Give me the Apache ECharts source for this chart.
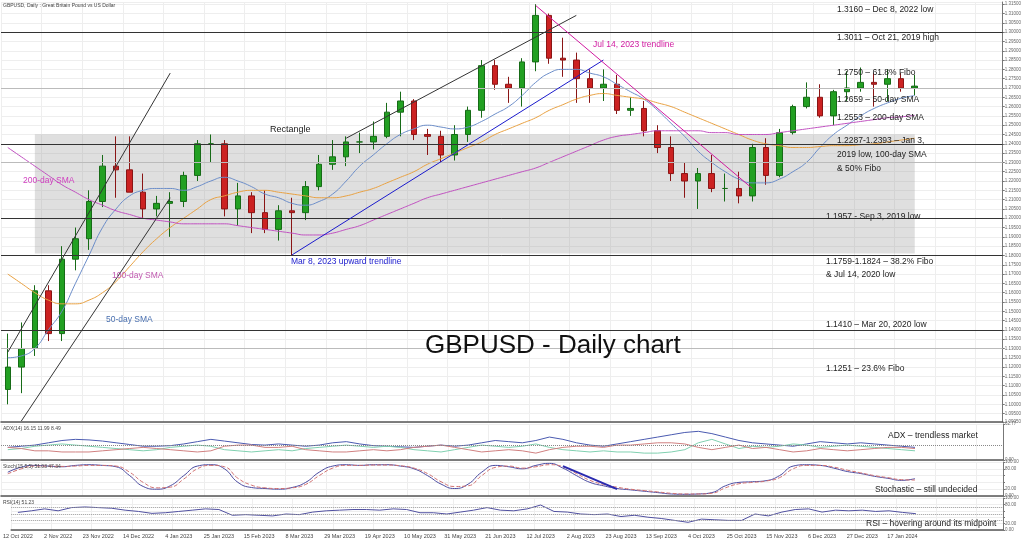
<!DOCTYPE html>
<html><head><meta charset="utf-8">
<script src="https://cdn.jsdelivr.net/npm/echarts@6/dist/echarts.min.js"></script>
<style>html,body{margin:0;padding:0;background:#fff}#c{width:1024px;height:541px}</style>
</head><body><div id="c"></div>
<script>
// weekly candles, week starting 10 Oct 2022
const opens  = [1.1080,1.1200,1.1300,1.1610,1.1380,1.1780,1.1890,1.2090,1.2280,1.2260,1.2140,1.2050,1.2080,1.2090,1.2230,1.2400,1.2400,1.2050,1.2120,1.2030,1.1940,1.2040,1.2030,1.2170,1.2290,1.2330,1.2410,1.2410,1.2440,1.2570,1.2630,1.2450,1.2440,1.2340,1.2450,1.2580,1.2820,1.2720,1.2700,1.2840,1.3090,1.2860,1.2850,1.2750,1.2700,1.2720,1.2580,1.2590,1.2470,1.2380,1.2240,1.2200,1.2240,1.2160,1.2160,1.2120,1.2380,1.2230,1.2460,1.2600,1.2650,1.2550,1.2680,1.2700,1.2730,1.2720,1.2750,1.2700];
const closes = [1.1200,1.1300,1.1610,1.1380,1.1780,1.1890,1.2090,1.2280,1.2260,1.2140,1.2050,1.2080,1.2090,1.2230,1.2400,1.2400,1.2050,1.2120,1.2030,1.1940,1.2040,1.2030,1.2170,1.2290,1.2330,1.2410,1.2410,1.2440,1.2570,1.2630,1.2450,1.2440,1.2340,1.2450,1.2580,1.2820,1.2720,1.2700,1.2840,1.3090,1.2860,1.2850,1.2750,1.2700,1.2720,1.2580,1.2590,1.2470,1.2380,1.2240,1.2200,1.2240,1.2160,1.2160,1.2120,1.2380,1.2230,1.2460,1.2600,1.2650,1.2550,1.2680,1.2700,1.2730,1.2720,1.2750,1.2700,1.2710];
const highs  = [1.1380,1.1440,1.1640,1.1640,1.1850,1.1950,1.2150,1.2340,1.2440,1.2440,1.2240,1.2120,1.2140,1.2250,1.2420,1.2450,1.2420,1.2190,1.2140,1.2150,1.2070,1.2110,1.2200,1.2340,1.2420,1.2440,1.2460,1.2520,1.2620,1.2680,1.2640,1.2480,1.2470,1.2500,1.2600,1.2850,1.2850,1.2760,1.2860,1.3150,1.3100,1.2970,1.2890,1.2800,1.2800,1.2770,1.2650,1.2630,1.2500,1.2440,1.2300,1.2270,1.2340,1.2240,1.2250,1.2400,1.2430,1.2480,1.2610,1.2730,1.2720,1.2690,1.2790,1.2810,1.2780,1.2800,1.2780,1.2770];
const lows   = [1.1000,1.1060,1.1260,1.1340,1.1340,1.1720,1.1830,1.2060,1.2110,1.2140,1.2000,1.2010,1.1900,1.2060,1.2200,1.2300,1.2010,1.1960,1.1920,1.1920,1.1880,1.1800,1.1990,1.2150,1.2260,1.2280,1.2350,1.2370,1.2430,1.2440,1.2420,1.2340,1.2300,1.2310,1.2410,1.2540,1.2690,1.2620,1.2600,1.2790,1.2830,1.2760,1.2620,1.2620,1.2630,1.2560,1.2550,1.2440,1.2350,1.2200,1.2110,1.2050,1.2140,1.2090,1.2080,1.2090,1.2180,1.2220,1.2450,1.2590,1.2540,1.2500,1.2630,1.2680,1.2600,1.2630,1.2680,1.2660];
const sma50  = [1.1250,1.1260,1.1300,1.1400,1.1500,1.1650,1.1800,1.1950,1.2050,1.2120,1.2150,1.2160,1.2160,1.2150,1.2170,1.2200,1.2220,1.2200,1.2170,1.2130,1.2110,1.2080,1.2070,1.2090,1.2130,1.2200,1.2280,1.2340,1.2400,1.2450,1.2480,1.2500,1.2490,1.2480,1.2490,1.2520,1.2560,1.2600,1.2660,1.2730,1.2780,1.2800,1.2800,1.2780,1.2760,1.2720,1.2680,1.2640,1.2580,1.2510,1.2440,1.2360,1.2300,1.2250,1.2210,1.2190,1.2190,1.2210,1.2250,1.2300,1.2380,1.2450,1.2500,1.2550,1.2590,1.2620,1.2645,1.2659];
const sma100 = [1.1700,1.1650,1.1600,1.1560,1.1540,1.1540,1.1560,1.1600,1.1660,1.1740,1.1820,1.1890,1.1950,1.2000,1.2050,1.2100,1.2120,1.2140,1.2150,1.2150,1.2140,1.2130,1.2120,1.2110,1.2110,1.2120,1.2140,1.2160,1.2190,1.2220,1.2250,1.2290,1.2320,1.2350,1.2380,1.2410,1.2450,1.2480,1.2510,1.2540,1.2580,1.2610,1.2640,1.2660,1.2670,1.2660,1.2650,1.2640,1.2620,1.2600,1.2570,1.2540,1.2510,1.2480,1.2450,1.2420,1.2400,1.2390,1.2380,1.2380,1.2385,1.2390,1.2390,1.2395,1.2400,1.2410,1.2420,1.2430];
const sma200 = [1.2380,1.2330,1.2280,1.2230,1.2180,1.2140,1.2100,1.2070,1.2040,1.2020,1.2000,1.1990,1.1980,1.1970,1.1970,1.1970,1.1970,1.1960,1.1950,1.1940,1.1930,1.1920,1.1910,1.1910,1.1920,1.1940,1.1960,1.1990,1.2020,1.2050,1.2080,1.2110,1.2130,1.2150,1.2170,1.2190,1.2210,1.2230,1.2250,1.2270,1.2300,1.2330,1.2360,1.2390,1.2420,1.2440,1.2450,1.2460,1.2470,1.2470,1.2470,1.2470,1.2460,1.2460,1.2450,1.2450,1.2450,1.2460,1.2470,1.2480,1.2490,1.2500,1.2510,1.2520,1.2530,1.2540,1.2545,1.2553];
const adx   = [22,24,26,30,34,36,35,33,30,27,24,24,25,28,32,36,33,30,27,26,28,26,24,26,30,32,28,25,24,23,22,24,26,24,26,30,34,32,30,34,40,36,30,26,24,28,32,36,40,44,48,50,46,40,34,30,28,26,24,28,32,30,28,30,28,26,24,22];
const diPlus= [18,20,24,26,28,26,24,22,20,18,16,18,22,24,26,24,18,16,14,16,18,16,20,22,24,26,24,22,24,22,18,16,14,18,22,26,24,22,24,28,22,18,16,14,16,14,14,12,12,14,18,30,36,28,20,24,22,24,28,26,22,24,26,24,22,20,18,16];
const diMinus=[22,20,16,16,14,14,14,16,18,20,22,20,18,16,14,16,24,26,26,22,22,24,18,16,14,14,16,18,16,18,22,24,26,22,18,14,16,18,16,12,18,22,24,24,22,26,26,28,30,30,28,22,18,22,26,20,22,18,14,16,20,18,16,18,20,22,22,20];
const stochK= [70,85,90,88,86,90,92,90,86,60,28,20,30,60,88,92,80,40,25,22,20,25,40,70,88,92,90,92,92,88,80,60,35,22,35,70,90,86,80,90,96,82,60,40,30,22,18,14,10,6,5,6,10,30,40,42,45,60,88,92,90,82,72,66,58,52,46,51];
const stochD= [65,80,88,88,87,88,90,90,88,70,40,24,26,50,80,90,86,52,32,24,22,24,34,60,82,90,90,91,91,89,82,66,42,28,30,60,84,88,82,86,92,86,66,46,34,26,20,16,12,8,6,6,8,24,36,40,44,54,80,90,90,85,76,68,60,54,48,47];
const rsi   = [55,60,66,60,70,72,70,68,62,58,52,54,58,62,66,64,46,48,46,44,50,48,56,60,62,64,64,62,66,64,54,54,50,56,62,70,62,60,66,78,58,56,50,48,50,42,46,40,36,30,24,34,32,30,30,50,44,56,64,66,56,62,60,62,58,60,55,51];
const levels = [1.3160,1.3011,1.2750,1.2393,1.1957,1.1810,1.1410];
const fiboLevels = [1.2711,1.2281,1.1251];
const tickStep = 3;
const emptyWeeks = 6;
const annotations = [
 ['1.3160 – Dec 8, 2022 low',837,5],['1.3011 – Oct 21, 2019 high',837,33],['1.2750 – 61.8% Fibo',837,68],
 ['1.2659 – 50-day SMA',837,95],['1.2553 – 200-day SMA',837,113],['1.2287-1.2393 – Jan 3,',837,136],
 ['2019 low, 100-day SMA',837,150],['& 50% Fibo',837,164],['1.1957 - Sep 3, 2019 low',826,212],
 ['1.1759-1.1824 – 38.2% Fibo',826,257],['& Jul 14, 2020 low',826,270],['1.1410 – Mar 20, 2020 low',826,320],
 ['1.1251 – 23.6% Fibo',826,364]];

const cats=[]; {let d=new Date(Date.UTC(2022,9,12)); const m=['Jan','Feb','Mar','Apr','May','Jun','Jul','Aug','Sep','Oct','Nov','Dec'];
 for(let i=0;i<opens.length+emptyWeeks;i++){cats.push(d.getUTCDate()+' '+m[d.getUTCMonth()]+' '+d.getUTCFullYear()); d=new Date(d.getTime()+7*864e5);}}
const nLast=opens.length-1;
const ohlc = opens.map((o,i)=>[o,closes[i],lows[i],highs[i]]);
const ch=echarts.init(document.getElementById('c'));
const L=1,R=21;
const grids=[{left:L,right:R,top:2,height:420},{left:L,right:R,top:424,height:36},{left:L,right:R,top:462,height:34},{left:L,right:R,top:498,height:32}];
const xAxes=grids.map((g,i)=>({type:'category',gridIndex:i,data:cats,boundaryGap:true,
 axisLine:{lineStyle:{color:'#555',width:1.5}},axisTick:{show:false},
 splitLine:{show:true,interval:tickStep-1,lineStyle:{color:'#eee'}},
 axisLabel:{show:i===3,interval:(idx)=>(idx%tickStep===0&&idx<nLast)||idx===nLast,fontSize:5.5,color:'#444',margin:3}}));
const yb={position:'right',splitLine:{lineStyle:{color:'#eee'}},axisLine:{show:true,lineStyle:{color:'#777'}},axisLabel:{fontSize:4.5,color:'#666',margin:2},axisTick:{show:true,length:2}};
const subFmt=v=>(v===0||v===20||v===80||v===100)?v.toFixed(2):'';
const yAxes=[Object.assign({},yb,{gridIndex:0,min:1.0905,max:1.3162,splitNumber:40,axisLabel:{fontSize:4.5,color:'#666',margin:2,formatter:v=>v.toFixed(5)}}),
 Object.assign({},yb,{gridIndex:1,min:0,max:62.77,interval:62.77,axisLabel:{fontSize:4.5,color:'#666',margin:2,formatter:v=>v.toFixed(2)}}),
 Object.assign({},yb,{gridIndex:2,min:0,max:100,interval:20,axisLabel:{fontSize:4.5,color:'#666',margin:2,formatter:subFmt}}),
 Object.assign({},yb,{gridIndex:3,min:0,max:100,interval:20,axisLabel:{fontSize:4.5,color:'#666',margin:2,formatter:subFmt}})];
const series=[
 {type:'candlestick',data:ohlc,barMaxWidth:6,itemStyle:{color:'#22a022',color0:'#cc2222',borderColor:'#176b17',borderColor0:'#8a1515'},
  markArea:{silent:true,itemStyle:{color:'rgba(150,150,150,0.3)'},data:[[{xAxis:cats[2],yAxis:1.2451},{xAxis:cats[nLast],yAxis:1.1810}]]},
  markLine:{silent:true,symbol:'none',label:{show:false},lineStyle:{color:'#333',width:1,type:'solid'},
   data:levels.map(v=>({yAxis:v})).concat(fiboLevels.map(v=>({yAxis:v,lineStyle:{color:'#bbb'}})),[
    [{coord:[cats[0],1.1280]},{coord:[cats[12],1.2780]}],
    [{coord:[cats[1],1.0910]},{coord:[cats[12],1.2110]}],
    [{coord:[cats[25],1.2430]},{coord:[cats[42],1.3090]}],
    [{coord:[cats[21],1.1803],lineStyle:{color:'#1a1acc'}},{coord:[cats[44],1.2850],lineStyle:{color:'#1a1acc'}}],
    [{coord:[cats[39],1.3143],lineStyle:{color:'#d01aa0'}},{coord:[cats[55],1.2160],lineStyle:{color:'#d01aa0'}}]])}},
 {type:'line',data:sma50,symbol:'none',smooth:true,lineStyle:{color:'#6a8cc8',width:1}},
 {type:'line',data:sma100,symbol:'none',smooth:true,lineStyle:{color:'#e8a040',width:1}},
 {type:'line',data:sma200,symbol:'none',smooth:true,lineStyle:{color:'#c050c0',width:1}},
 {type:'line',xAxisIndex:1,yAxisIndex:1,data:adx,symbol:'none',lineStyle:{color:'#4a5ab0',width:1},
  markLine:{silent:true,symbol:'none',label:{show:false},lineStyle:{color:'#888',type:'dotted'},data:[{yAxis:25}]}},
 {type:'line',xAxisIndex:1,yAxisIndex:1,data:diPlus,symbol:'none',lineStyle:{color:'#80d0b0',width:1}},
 {type:'line',xAxisIndex:1,yAxisIndex:1,data:diMinus,symbol:'none',lineStyle:{color:'#d08080',width:1}},
 {type:'line',xAxisIndex:2,yAxisIndex:2,data:stochK,symbol:'none',smooth:true,lineStyle:{color:'#4a4aa0',width:1},
  markLine:{silent:true,symbol:'none',label:{show:false},lineStyle:{color:'#2a2ab0',width:2,type:'solid'},data:[[{coord:[cats[41],88]},{coord:[cats[45],20]}]]}},
 {type:'line',xAxisIndex:2,yAxisIndex:2,data:stochD,symbol:'none',smooth:true,lineStyle:{color:'#d07070',width:1,type:'dashed'}},
 {type:'line',xAxisIndex:3,yAxisIndex:3,data:rsi,symbol:'none',lineStyle:{color:'#5050a0',width:1},
  markLine:{silent:true,symbol:'none',label:{show:false},lineStyle:{color:'#999',type:'dotted'},data:[{yAxis:50},{yAxis:70},{yAxis:30}]}}];
const F='Liberation Sans';
const gtext=(t,x,y,s,c)=>({type:'text',left:x,top:y,z:100,style:{text:t,fontSize:s,fill:c||'#222',fontFamily:F}});
const graphic=annotations.map(a=>gtext(a[0],a[1],a[2],8.5));
graphic.push(gtext('GBPUSD - Daily chart',425,333,26,'#111'),gtext('Rectangle',270,125,9),gtext('200-day SMA',23,176,8.5,'#d040c0'),
 gtext('100-day SMA',112,271,8.5,'#c05ab0'),gtext('50-day SMA',106,315,8.5,'#4a70b0'),gtext('Mar 8, 2023 upward trendline',291,257,8.5,'#1a1acc'),
 gtext('Jul 14, 2023 trendline',593,40,8.5,'#d01aa0'),gtext('ADX – trendless market',888,431,8.5),gtext('Stochastic – still undecided',875,485,8.5),
 gtext('RSI – hovering around its midpoint',866,519,8.5),gtext('GBPUSD, Daily : Great Britain Pound vs US Dollar',3,3,5,'#444'),
 gtext('ADX(14) 16.15 11.99 8.49',3,426,5,'#444'),gtext('Stoch(15,5,5) 51.03 47.34',3,464,5,'#444'),gtext('RSI(14) 51.23',3,500,5,'#444'));
ch.setOption({animation:false,grid:grids,xAxis:xAxes,yAxis:yAxes,series,graphic});
</script></body></html>
